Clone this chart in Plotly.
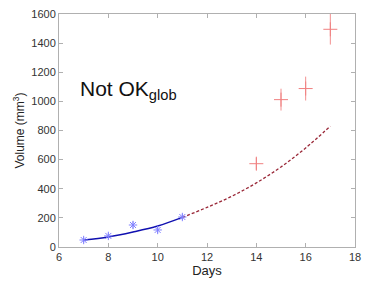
import plotly.graph_objects as go

# Observed data (fit period)
days_fit = [7, 8, 9, 10, 11]
vol_fit = [48, 76, 151, 117, 206]
err_fit = [18, 18, 25, 22, 20]

# Observed data (prediction period)
days_pred = [14, 15, 16, 17]
vol_pred = [572, 1012, 1088, 1495]
err_pred = [42, 75, 82, 105]

# Model curve
curve_days_fit = [7, 8, 9, 10, 11]
curve_vol_fit = [48, 69, 103, 144, 203]
curve_days_pred = [11, 12, 13, 14, 15, 16, 17]
curve_vol_pred = [203, 272, 348, 440, 550, 680, 830]

x_ticks = [6, 8, 10, 12, 14, 16, 18]
y_ticks = [0, 200, 400, 600, 800, 1000, 1200, 1400, 1600]

fig = go.Figure()

fig.add_trace(go.Scatter(
    x=curve_days_fit, y=curve_vol_fit, mode="lines",
    line=dict(color="#1010b0", width=1.4, shape="spline"),
    showlegend=False))
fig.add_trace(go.Scatter(
    x=curve_days_pred, y=curve_vol_pred, mode="lines",
    line=dict(color="#9a2838", width=1.3, dash="3px,2px", shape="spline"),
    showlegend=False))
fig.add_trace(go.Scatter(
    x=days_fit, y=vol_fit, mode="markers",
    marker=dict(symbol="asterisk-open", size=7, color="#8080ff",
                line=dict(color="#8080ff", width=1)),
    error_y=dict(type="data", array=err_fit, color="#a0a0ff", thickness=1, width=0),
    showlegend=False))
fig.add_trace(go.Scatter(
    x=days_pred, y=vol_pred, mode="markers",
    marker=dict(symbol="cross-thin-open", size=10, color="#f08080",
                line=dict(color="#f08080", width=1)),
    error_y=dict(type="data", array=err_pred, color="#f29090", thickness=1, width=0),
    showlegend=False))

fig.add_annotation(
    x=6.78, y=1078, xref="x", yref="y", xanchor="left", yanchor="middle",
    text="Not OK<sub>glob</sub>", showarrow=False,
    font=dict(size=21, color="#111111", family="Liberation Sans, Arial, sans-serif"))

axis_common = dict(
    showgrid=False, zeroline=False, showline=True, mirror="ticks",
    linecolor="#b0b0b0", linewidth=1, ticks="inside", ticklen=4,
    tickcolor="#b0b0b0", tickfont=dict(size=11, color="#333333"),
    automargin=False)

fig.update_layout(
    width=366, height=291,
    margin=dict(l=59, r=11, t=14, b=44),
    paper_bgcolor="white", plot_bgcolor="white",
    font=dict(family="Liberation Sans, Arial, sans-serif", color="#222222"),
    xaxis=dict(range=[6, 18], tickvals=x_ticks,
               title=dict(text="Days", font=dict(size=13), standoff=3),
               **axis_common),
    yaxis=dict(range=[0, 1600], tickvals=y_ticks,
               title=dict(text="Volume (mm<sup>3</sup>)", font=dict(size=12), standoff=4),
               **axis_common),
)

fig.write_html("out.html", config={"displayModeBar": False},
               post_script="document.body.style.margin='0';document.body.style.overflow='hidden';")
